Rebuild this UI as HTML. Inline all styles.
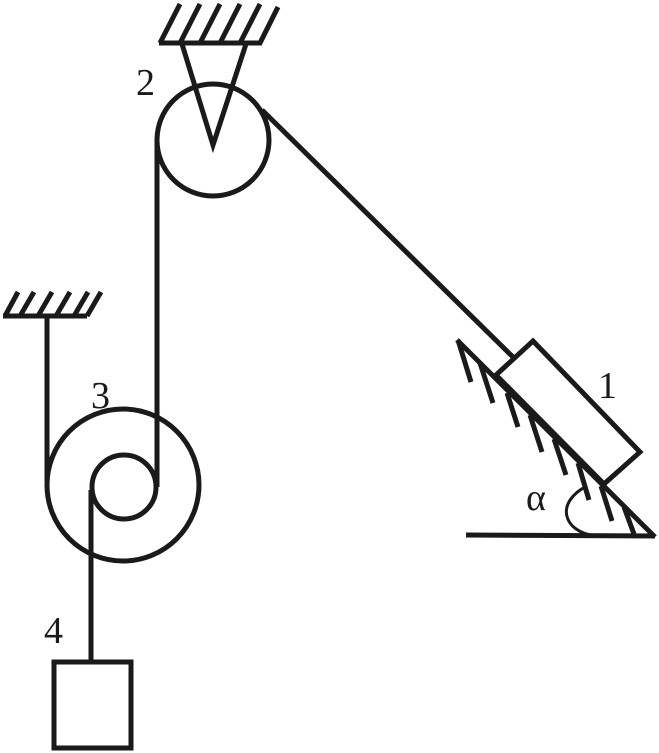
<!DOCTYPE html>
<html><head><style>html,body{margin:0;padding:0;background:#fff}svg{display:block}</style></head>
<body>
<svg width="659" height="753" viewBox="0 0 659 753" xmlns="http://www.w3.org/2000/svg">
<g fill="none" stroke="#1a1a1a" stroke-width="5" stroke-linecap="butt">
<line x1="159" y1="43" x2="262" y2="43"/>
<line x1="160" y1="43" x2="180" y2="4"/>
<line x1="180" y1="43" x2="200" y2="4"/>
<line x1="200" y1="43" x2="220" y2="4"/>
<line x1="220" y1="43" x2="240" y2="4"/>
<line x1="240" y1="43" x2="260" y2="4"/>
<line x1="260" y1="43" x2="278" y2="7"/>
<polyline points="182,44 213,145 246,44"/>
<circle cx="213" cy="140" r="56"/>
<line x1="157" y1="138" x2="157" y2="487"/>
<line x1="262" y1="110" x2="514" y2="358"/>
<line x1="3" y1="316" x2="87" y2="316"/>
<line x1="5" y1="316" x2="18" y2="292"/>
<line x1="20" y1="316" x2="34" y2="292"/>
<line x1="38" y1="316" x2="52" y2="292"/>
<line x1="56" y1="316" x2="70" y2="292"/>
<line x1="74" y1="316" x2="88" y2="292"/>
<line x1="87" y1="316" x2="101" y2="292"/>
<line x1="47" y1="318" x2="47" y2="482"/>
<circle cx="123" cy="485" r="76"/>
<circle cx="124" cy="487" r="32"/>
<line x1="91" y1="490" x2="91" y2="662"/>
<rect x="54" y="662" width="77" height="86"/>
<line x1="457" y1="340" x2="655" y2="537"/>
<line x1="466" y1="535" x2="655" y2="536"/>
<line x1="458" y1="340" x2="471" y2="382"/>
<line x1="480" y1="363" x2="493" y2="403"/>
<line x1="507" y1="393" x2="518" y2="427"/>
<line x1="530" y1="415" x2="542" y2="452"/>
<line x1="554" y1="439" x2="566" y2="475"/>
<line x1="578" y1="463" x2="589" y2="500"/>
<line x1="601" y1="486" x2="612" y2="521"/>
<line x1="624" y1="507" x2="634" y2="534"/>
<polygon points="496,375 533,341 640,452 604,484" fill="#fff"/>
</g>
<path d="M587,486 C555,502 562,532 596,536" fill="none" stroke="#1a1a1a" stroke-width="3"/>
<g font-family="Liberation Serif, serif" fill="#1a1a1a" font-size="38">
<text x="136" y="95">2</text>
<text x="91" y="408">3</text>
<text x="598" y="398">1</text>
<text x="44" y="643">4</text>
<text x="526" y="510">α</text>
</g>
</svg>
</body></html>
